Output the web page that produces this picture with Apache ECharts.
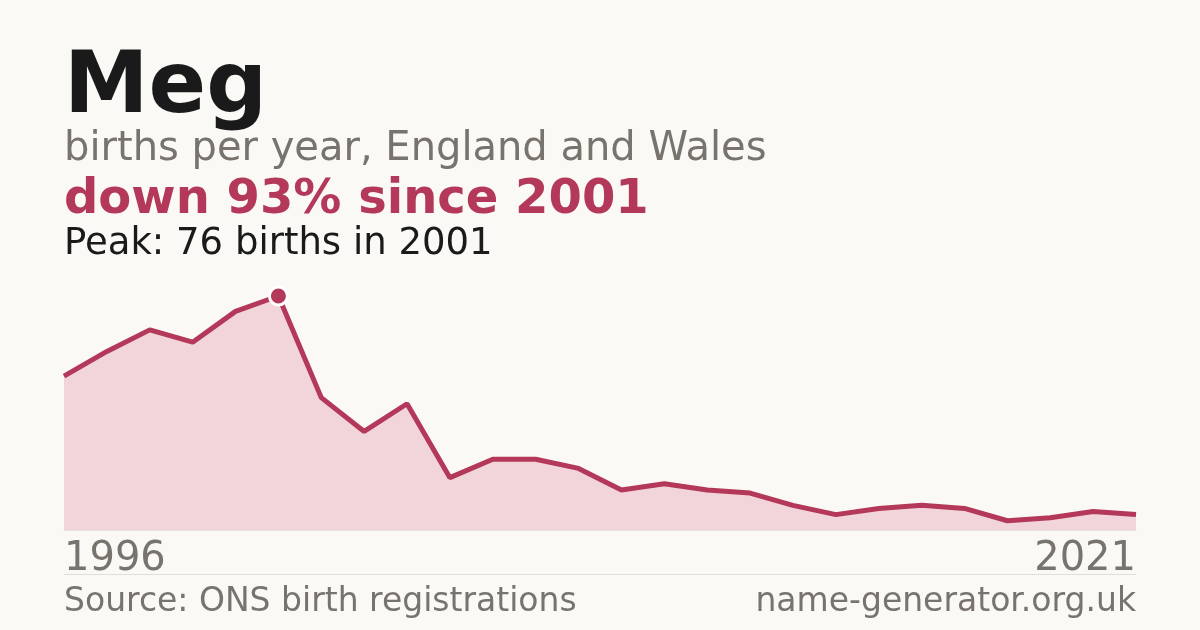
<!doctype html>
<html lang="en">
<head>
    <meta charset="UTF-8">
    <title>Meg births</title>
    <style>
        html, body {margin: 0; padding: 0; background: #faf9f5;}
        #chart {width: 1200px; height: 630px;}
    </style>
</head>
<body>
<div id="chart"></div>
<script src="https://cdn.jsdelivr.net/npm/echarts@6/dist/echarts.min.js"></script>
<script>
    var years = ['1996','1997','1998','1999','2000','2001','2002','2003','2004','2005','2006','2007','2008',
        '2009','2010','2011','2012','2013','2014','2015','2016','2017','2018','2019','2020','2021'];
    var births = [50, 58, 65, 61, 71, 76, 43, 32, 41, 17, 23, 23, 20,
        13, 15, 13, 12, 8, 5, 7, 8, 7, 3, 4, 6, 5];

    var font = 'DejaVu Sans';
    var crimson = '#b3385a';
    var grey = '#78736d';

    var chart = echarts.init(document.getElementById('chart'));
    chart.setOption({
        backgroundColor: '#faf9f5',
        animation: false,
        grid: {left: 64, right: 64, top: 296, bottom: 100},
        xAxis: {
            type: 'category',
            data: years,
            boundaryGap: false,
            axisTick: {show: false},
            axisLine: {show: true, lineStyle: {color: '#e6e1dc', width: 1}},
            axisLabel: {
                interval: function (i) { return i === 0 || i === years.length - 1; },
                alignMinLabel: 'left',
                alignMaxLabel: 'right',
                margin: 10,
                fontFamily: font,
                fontSize: 40,
                color: grey
            }
        },
        yAxis: {
            type: 'value',
            min: 0,
            max: 76,
            show: false,
            splitLine: {show: false}
        },
        graphic: [
            {type: 'text', left: 64, top: 47, style: {text: 'Meg', font: 'bold 85px "DejaVu Sans"', fill: '#1a1a1a'}},
            {type: 'text', left: 64, top: 130, style: {text: 'births per year, England and Wales', font: '40px "DejaVu Sans"', fill: grey}},
            {type: 'text', left: 64, top: 177, style: {text: 'down 93% since 2001', font: 'bold 48px "DejaVu Sans"', fill: crimson}},
            {type: 'text', left: 64, top: 226, style: {text: 'Peak: 76 births in 2001', font: '37px "DejaVu Sans"', fill: '#1a1a1a'}},
            {type: 'rect', shape: {x: 64, y: 574, width: 1072, height: 1}, style: {fill: '#e2ded8'}},
            {type: 'text', left: 64, top: 586, style: {text: 'Source: ONS birth registrations', font: '33px "DejaVu Sans"', fill: grey}},
            {type: 'text', right: 64, top: 586, style: {text: 'name-generator.org.uk', font: '33px "DejaVu Sans"', fill: grey}}
        ],
        series: [{
            type: 'line',
            data: births,
            symbol: 'none',
            lineStyle: {color: crimson, width: 5},
            areaStyle: {color: '#f1d5db', opacity: 1},
            markPoint: {
                symbol: 'circle',
                symbolSize: 18,
                label: {show: false},
                itemStyle: {color: crimson, borderColor: '#ffffff', borderWidth: 3},
                data: [{type: 'max'}]
            }
        }]
    });
</script>
</body>
</html>
